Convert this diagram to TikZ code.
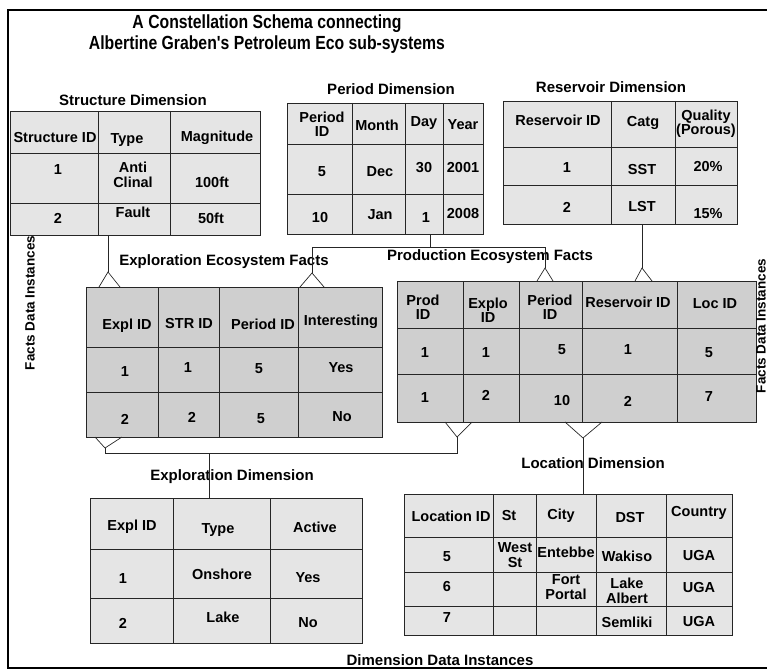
\documentclass[tikz,border=0pt]{standalone}
\usepackage{fontspec}
\setmainfont{Liberation Sans}
\newfontfamily\titlefont[FakeStretch=0.83]{Liberation Sans}
\usetikzlibrary{calc}

\definecolor{dimfill}{gray}{0.90}
\definecolor{factfill}{gray}{0.81}

\tikzset{
  tab/.style={draw=black!85, line width=0.8pt, inner sep=0pt, outer sep=0pt},
  dimtab/.style={tab, fill=dimfill},
  facttab/.style={tab, fill=factfill},
  grid/.style={draw=black!85, line width=0.8pt},
  cell/.style={font=\bfseries\fontsize{14.5}{14.5}\selectfont, align=center, inner sep=0pt},
  lbl/.style={font=\bfseries\fontsize{15}{17}\selectfont, inner sep=0pt},
  sidelbl/.style={font=\bfseries\fontsize{13.5}{15}\selectfont, inner sep=0pt, rotate=90},
  link/.style={draw=black!85, line width=0.7pt},
}
% crow's foot: apex, table side, spread left, spread right
\newcommand{\crow}[4]{%
  \draw[link] ($(#1 |- #2)+(-#3,0)$) -- (#1) -- ($(#1 |- #2)+(#4,0)$);}

\begin{document}
\begin{tikzpicture}[x=1pt,y=-1pt]
	\useasboundingbox (0,0) rectangle (767,671);
	\draw[line width=2.2pt] (8,10) rectangle (790,668);

	\node[font=\titlefont\bfseries\fontsize{19}{21}\selectfont, anchor=base] (title1) at (267,29) {A Constellation Schema connecting};
	\node[font=\titlefont\bfseries\fontsize{19}{21}\selectfont, anchor=base] (title2) at (267,50) {Albertine Graben's Petroleum Eco sub-systems};

	% dimension tables, top row
	\node[dimtab, minimum width=250, minimum height=124] (str) at (135,173) {};
	\foreach \c in {98,170} \draw[grid] (\c,111) -- (\c,235);
	\foreach \r in {153,203} \draw[grid] (10,\r) -- (260,\r);
	\foreach \x/\y/\t [count=\i] in {55/138/Structure ID, 127/140/Type, 217/138/Magnitude,
		58/170/1, 133/175/{Anti\\Clinal}, 212/182/100ft, 58/218/2, 133/212/Fault, 211/218/50ft}
		\node[cell] (str\i) at (\x,\y) {\t};
	\node[lbl] (strlbl) at (133,100) {Structure Dimension};

	\node[dimtab, minimum width=196, minimum height=131] (per) at (385,168.5) {};
	\foreach \c in {352,405,443} \draw[grid] (\c,103) -- (\c,234);
	\foreach \r in {144,194} \draw[grid] (287,\r) -- (483,\r);
	\foreach \x/\y/\t [count=\i] in {322/124/{Period\\ID}, 377/125/Month, 424/123/Day, 463/125/Year,
		322/172/5, 380/172/Dec, 424/168/30, 463/168/2001, 320/218/10, 380/215/Jan, 426/218/1, 463/214/2008}
		\node[cell] (per\i) at (\x,\y) {\t};
	\node[lbl] (perlbl) at (391,89) {Period Dimension};

	\node[dimtab, minimum width=234, minimum height=123] (res) at (620,162.5) {};
	\foreach \c in {611,675} \draw[grid] (\c,101) -- (\c,224);
	\foreach \r in {147,185} \draw[grid] (503,\r) -- (737,\r);
	\foreach \x/\y/\t [count=\i] in {558/120/Reservoir ID, 643/123/Catg, 706/124/{Quality\\(Porous)},
		567/168/1, 642/170/SST, 708/167/20\%, 567/207/2, 642/207/LST, 708/214/15\%}
		\node[cell] (res\i) at (\x,\y) {\t};
	\node[lbl] (reslbl) at (611,87) {Reservoir Dimension};

	% fact tables
	\node[facttab, minimum width=296, minimum height=150] (xf) at (234,362) {};
	\foreach \c in {158,219,298} \draw[grid] (\c,287) -- (\c,437);
	\foreach \r in {347,392} \draw[grid] (86,\r) -- (382,\r);
	\foreach \x/\y/\t [count=\i] in {127/326/Expl ID, 189/324/STR ID, 263/324/Period ID, 341/322/Interesting,
		125/372/1, 188/368/1, 259/369/5, 341/368/Yes, 125/419/2, 192/417/2, 261/419/5, 342/417/No}
		\node[cell] (xf\i) at (\x,\y) {\t};
	\node[lbl] (xflbl) at (224,262) {Exploration Ecosystem Facts};

	\node[facttab, minimum width=359, minimum height=141] (pf) at (576.5,351.5) {};
	\foreach \c in {463,519,582,677} \draw[grid] (\c,281) -- (\c,422);
	\foreach \r in {328,374} \draw[grid] (397,\r) -- (756,\r);
	\foreach \x/\y/\t [count=\i] in {423/307/{Prod\\ID}, 488/310/{Explo\\ID}, 550/307/{Period\\ID}, 628/302/Reservoir ID, 715/304/Loc ID,
		425/353/1, 486/353/1, 562/350/5, 628/350/1, 709/353/5,
		425/398/1, 486/395/2, 562/401/10, 628/401/2, 709/397/7}
		\node[cell] (pf\i) at (\x,\y) {\t};
	\node[lbl] (pflbl) at (490,257) {Production Ecosystem Facts};

	% dimension tables, bottom row
	\node[dimtab, minimum width=272, minimum height=145] (xd) at (226,570.5) {};
	\foreach \c in {173,270} \draw[grid] (\c,498) -- (\c,643);
	\foreach \r in {549,598} \draw[grid] (90,\r) -- (362,\r);
	\foreach \x/\y/\t [count=\i] in {132/527/Expl ID, 218/530/Type, 315/527/Active,
		123/579/1, 222/574/Onshore, 308/578/Yes, 123/623/2, 223/617/Lake, 308/623/No}
		\node[cell] (xd\i) at (\x,\y) {\t};
	\node[lbl] (xdlbl) at (232,477) {Exploration Dimension};

	\node[dimtab, minimum width=328, minimum height=141] (loc) at (568,564.5) {};
	\foreach \c in {493,536,596,666} \draw[grid] (\c,494) -- (\c,635);
	\foreach \r in {537,572,606} \draw[grid] (404,\r) -- (732,\r);
	\foreach \x/\y/\t [count=\i] in {451/516/Location ID, 509/516/St, 561/516/City, 630/518/DST, 699/513/Country,
		447/557/5, 515/555/{West\\St}, 566/552/Entebbe, 627/556/Wakiso, 699/556/UGA,
		447/587/6, 566/587/{Fort\\Portal}, 627/591/{Lake\\Albert}, 699/588/UGA,
		447/618/7, 627/622/Semliki, 699/621/UGA}
		\node[cell] (loc\i) at (\x,\y) {\t};
	\node[lbl] (loclbl) at (593,463) {Location Dimension};

	\node[lbl] (botlbl) at (440,660) {Dimension Data Instances};
	\node[sidelbl] (leftlbl) at (30,303) {Facts Data Instances};
	\node[sidelbl] (rightlbl) at (761,326) {Facts Data Instances};

	% links between facts and dimensions
	\coordinate (strapex) at (108,272);
	\draw[link] (str.south -| strapex) -- (strapex);
	\crow{strapex}{xf.north}{9}{12}

	\coordinate (perjoin) at (430,247);
	\coordinate (perxf) at (312,273);
	\coordinate (perpf) at (545,268);
	\draw[link] (per.south -| perjoin) -- (perjoin);
	\draw[link] (perxf) -- (perxf |- perjoin) -- (perpf |- perjoin) -- (perpf);
	\crow{perxf}{xf.north}{12}{12}
	\crow{perpf}{pf.north}{8}{8}

	\coordinate (respf) at (642,268);
	\draw[link] (res.south -| respf) -- (respf);
	\crow{respf}{pf.north}{7}{10}

	\coordinate (xfapex) at (105,448);
	\coordinate (pfxapex) at (457,437);
	\coordinate (xdjoin) at (209,453);
	\crow{xfapex}{xf.south}{10}{17}
	\crow{pfxapex}{pf.south}{12}{15}
	\draw[link] (xfapex) -- (xfapex |- xdjoin) -- (pfxapex |- xdjoin) -- (pfxapex);
	\draw[link] (xdjoin) -- (xd.north -| xdjoin);

	\coordinate (locapex) at (583,438);
	\crow{locapex}{pf.south}{18}{19}
	\draw[link] (locapex) -- (loc.north -| locapex);
\end{tikzpicture}
\end{document}
